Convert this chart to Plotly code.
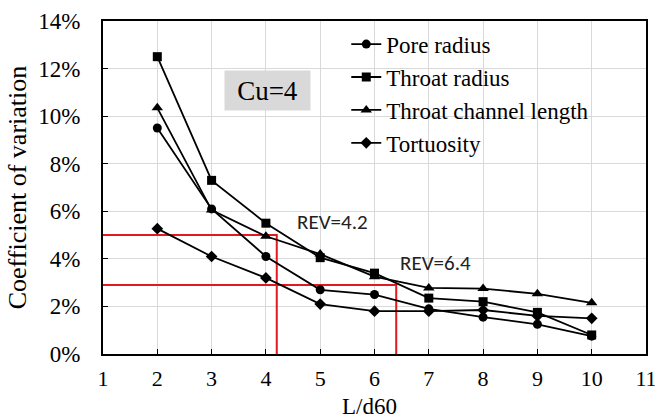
import plotly.graph_objects as go

# L/d60 sample sizes
x_vals = [2, 3, 4, 5, 6, 7, 8, 9, 10]

# coefficient of variation (%) for each pore-network parameter
pore_radius = [9.5, 6.1, 4.1, 2.7, 2.5, 1.9, 1.55, 1.25, 0.75]
throat_radius = [12.5, 7.3, 5.5, 4.05, 3.4, 2.35, 2.2, 1.75, 0.8]
throat_length = [10.35, 6.05, 4.95, 4.2, 3.25, 2.78, 2.75, 2.53, 2.15]
tortuosity = [5.27, 4.1, 3.2, 2.1, 1.8, 1.8, 1.85, 1.6, 1.5]

# REV thresholds
rev_x = [4.2, 6.4]
rev_y = [5.0, 2.9]

x_ticks = list(range(1, 12))
y_ticks = list(range(0, 15, 2))
y_tick_text = [f"{v}%" for v in y_ticks]

serif = "Liberation Serif"
sans = "Carlito, Liberation Sans, sans-serif"
red = "#e3191e"

fig = go.Figure()

# red REV guide lines
for rx, ry in zip(rev_x, rev_y):
    fig.add_trace(go.Scatter(
        x=[1, rx, rx], y=[ry, ry, 0], mode="lines",
        line=dict(color=red, width=2), showlegend=False, hoverinfo="skip"))

series = [
    ("Pore radius", pore_radius, "circle", 9),
    ("Throat radius", throat_radius, "square", 9),
    ("Throat channel length", throat_length, "triangle-up", 10),
    ("Tortuosity", tortuosity, "diamond", 9),
]
for name, ys, sym, size in series:
    fig.add_trace(go.Scatter(
        x=x_vals, y=ys, name=name, legendgroup=name, mode="lines+markers",
        line=dict(color="black", width=1.8),
        marker=dict(symbol=sym, size=size, color="black")))

fig.add_annotation(x=5.22, y=5.53, xref="x", yref="y", text="REV=4.2", showarrow=False,
                   font=dict(family=sans, size=21, color="#222"))
fig.add_annotation(x=7.13, y=3.84, xref="x", yref="y", text="REV=6.4", showarrow=False,
                   font=dict(family=sans, size=21, color="#222"))
fig.add_annotation(x=4.03, y=11.08, xref="x", yref="y", text="Cu=4", showarrow=False,
                   bgcolor="#d9d9d9", width=83, height=37,
                   font=dict(family=serif, size=27, color="black"))
# x-axis title, placed under the tick labels
fig.add_annotation(x=0.49, y=-0.158, xref="paper", yref="paper", text="L/d60",
                   showarrow=False, yanchor="middle",
                   font=dict(family=serif, size=23, color="black"))

fig.update_layout(
    width=655, height=420,
    margin=dict(l=103, r=9, t=21, b=66),
    paper_bgcolor="white", plot_bgcolor="white",
    font=dict(family=serif, color="black"),
    legend=dict(x=0.448, y=0.995, xanchor="left", yanchor="top",
                bgcolor="rgba(0,0,0,0)", font=dict(family=serif, size=23),
                tracegroupgap=0, itemwidth=30),
    xaxis=dict(range=[1, 11], tickvals=x_ticks, showgrid=True, gridcolor="#d9d9d9",
               gridwidth=1, zeroline=False, showline=True, linecolor="black", linewidth=2,
               mirror=True, ticks="inside", ticklen=5, tickcolor="black",
               tickfont=dict(family=serif, size=22), ticklabelstandoff=4,
               ticklabeloverflow="allow", automargin=False),
    yaxis=dict(range=[0, 14], tickvals=y_ticks, ticktext=y_tick_text, showgrid=True,
               gridcolor="#d9d9d9", gridwidth=1, zeroline=False, showline=True,
               linecolor="black", linewidth=2, mirror=True, ticks="inside", ticklen=5,
               tickcolor="black", tickfont=dict(family=serif, size=23),
               ticklabelstandoff=16, ticklabeloverflow="allow", automargin=False,
               title=dict(text="Coefficient of variation", font=dict(family=serif, size=26),
                          standoff=4)),
)

fig.write_html("out.html")
